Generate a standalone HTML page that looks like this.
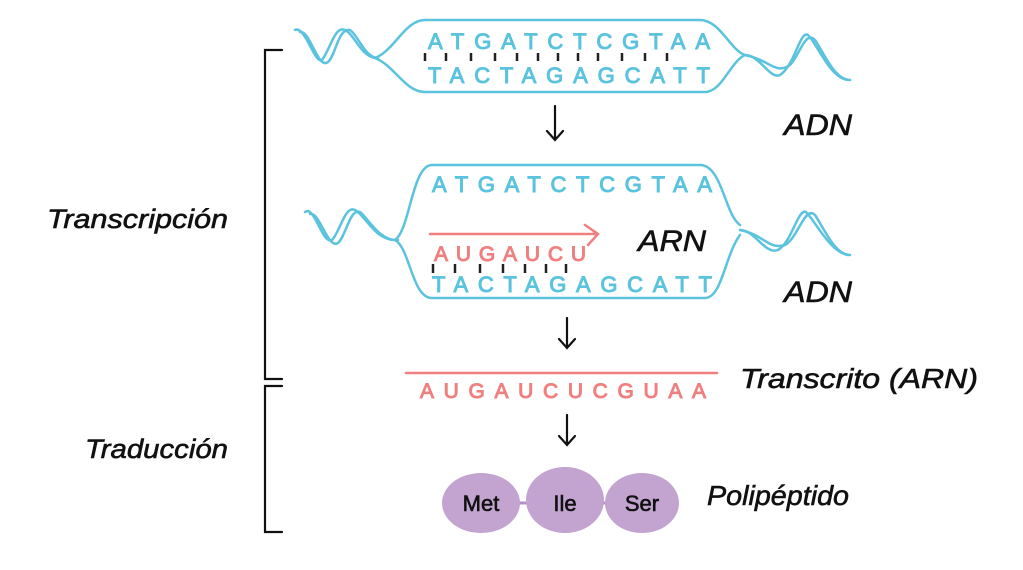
<!DOCTYPE html>
<html><head><meta charset="utf-8"><style>
html,body{margin:0;padding:0;background:#fff}
svg{display:block}
.b{font-family:"Liberation Sans",sans-serif;fill:#5bc3dd;stroke:#5bc3dd;stroke-width:1;font-size:22px}
.r{font-family:"Liberation Sans",sans-serif;fill:#f08080;stroke:#f08080;stroke-width:1;font-size:21px}
.k{font-family:"Liberation Sans",sans-serif;font-style:italic;fill:#111;stroke:#111;stroke-width:0.6}
</style></head><body>
<svg width="1023" height="570" viewBox="0 0 1023 570" xmlns="http://www.w3.org/2000/svg">
<g fill="none" stroke="#5bc3dd" stroke-width="2.5" stroke-linecap="round">
<path d="M375,58 C395,50 405,20 425,20 L700,20 C720,20 730,50 745,55"/>
<path d="M375,58 C395,66 405,92 425,92 L705,92 C722,92 730,62 745,55"/>
<path d="M295,30 C305,25 315,65 322,60 C330,50 335,25 345,30 C355,35 360,55 375,58"/>
<path d="M300,32 C310,30 318,70 328,62 C336,55 338,28 350,30 C358,35 365,58 378,58"/>
<path d="M745,55 C770,60 775,75 790,65 C800,55 805,30 815,40 C825,55 835,80 850,80"/>
<path d="M745,55 C760,55 770,80 780,75 C795,65 800,30 808,35 C818,45 830,78 848,80"/>
<path d="M395,240 C410,230 412,165 432,165 L700,165 C722,165 725,215 740,225"/>
<path d="M395,240 C410,248 412,298 432,298 L705,298 C722,298 725,255 740,235"/>
<path d="M305,212 C315,205 322,245 332,240 C340,232 345,205 355,210 C365,215 375,240 395,240"/>
<path d="M310,214 C320,212 328,250 338,243 C346,236 350,208 360,212 C368,218 380,242 398,240"/>
<path d="M740,230 C765,235 768,250 785,245 C798,238 805,205 815,215 C825,230 835,255 850,255"/>
<path d="M740,230 C755,230 765,255 778,250 C792,242 798,208 806,212 C816,222 830,252 848,255"/>
</g>
<g class="b">
<text x="428" y="49" textLength="282" lengthAdjust="spacing">ATGATCTCGTAA</text>
<text x="428" y="83" textLength="282" lengthAdjust="spacing">TACTAGAGCATT</text>
<text x="432" y="192" textLength="280" lengthAdjust="spacing">ATGATCTCGTAA</text>
<text x="432" y="292" textLength="280" lengthAdjust="spacing">TACTAGAGCATT</text>
</g>
<g stroke="#222" stroke-width="2.5">
<path d="M425,53v8M446,53v8M471,53v8M495,53v8M517,53v8M538,53v8M558,53v8M578,53v8M598,53v8M622,53v8M645,53v8M667,53v8"/>
<path d="M433,264v9M455,264v9M480,264v9M503,264v9M525,264v9M546,264v9M566,264v9"/>
</g>
<g class="r">
<text x="434" y="261" textLength="152" lengthAdjust="spacing">AUGAUCU</text>
<text x="420" y="398" textLength="286" lengthAdjust="spacing">AUGAUCUCGUAA</text>
</g>
<g stroke="#f08080" stroke-width="2.5" fill="none" stroke-linecap="round">
<path d="M430,234 H597 M585,225 L598,234 L588,245"/>
<path d="M406,373 H717"/>
</g>
<g stroke="#111" stroke-width="2.2" fill="none" stroke-linecap="round">
<path d="M555,106 V139 M547,131 L555,140 L563,131"/>
<path d="M567,318 V347 M559,339 L567,348 L575,339"/>
<path d="M567,415 V444 M559,436 L567,445 L575,436"/>
<path d="M282,50 H265 V379 H282"/>
<path d="M282,386 H265 V532 H282"/>
</g>
<path d="M515,503 H530 M600,503 H612" stroke="#b38ec7" stroke-width="3"/>
<g fill="#c3a3cf">
<ellipse cx="481" cy="503" rx="39" ry="30"/>
<ellipse cx="565" cy="500" rx="39" ry="33"/>
<ellipse cx="642" cy="503" rx="37" ry="30"/>
</g>
<g font-family="Liberation Sans, sans-serif" fill="#111" stroke="#111" stroke-width="0.6">
<text x="481" y="511" font-size="22" text-anchor="middle">Met</text>
<text x="565" y="511" font-size="22" text-anchor="middle">Ile</text>
<text x="642" y="511" font-size="22" text-anchor="middle">Ser</text>
</g>
<g class="k">
<text x="784" y="135" font-size="30" textLength="68" lengthAdjust="spacingAndGlyphs">ADN</text>
<text x="784" y="302" font-size="30" textLength="68" lengthAdjust="spacingAndGlyphs">ADN</text>
<text x="638" y="251" font-size="30" textLength="68" lengthAdjust="spacingAndGlyphs">ARN</text>
<text x="740" y="388" font-size="28" textLength="238" lengthAdjust="spacingAndGlyphs">Transcrito (ARN)</text>
<text x="707" y="505" font-size="28" textLength="142" lengthAdjust="spacingAndGlyphs">Polipéptido</text>
<text x="47" y="228" font-size="27" textLength="181" lengthAdjust="spacingAndGlyphs">Transcripción</text>
<text x="85" y="458" font-size="27" textLength="143" lengthAdjust="spacingAndGlyphs">Traducción</text>
</g>
</svg>
</body></html>
